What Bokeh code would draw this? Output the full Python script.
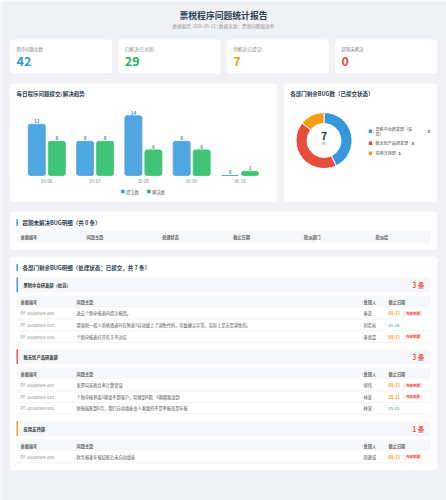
from bokeh.plotting import figure
from bokeh.models import Range1d, ColumnDataSource
from bokeh.transform import dodge
from bokeh.core.properties import value
from bokeh.embed import file_html
from bokeh.resources import INLINE
import math

# ---------------- data ----------------
report_title = "票税程序问题统计报告"
report_subtitle = "数据截至 2026-05-11 | 数据来源：票税问题跟进单"

kpi_labels = ["程序问题总数", "已解决(已关闭)", "待解决(已提交)", "超期未解决"]
kpi_values = [42, 29, 7, 0]

trend_title = "每日程序问题提交/解决趋势"
dates = ["05-06", "05-07", "05-08", "05-09", "05-10"]
submitted = [12, 8, 14, 8, 0]
resolved = [8, 8, 6, 6, 1]
series_names = ["提交数", "解决数"]

donut_title = "各部门剩余BUG数（已提交状态）"
dept_names = ["票税中台研发部（驻高）", "账无忧产品研发部", "应用支持部"]
dept_counts = [3, 3, 1]
donut_unit = "条"

overdue_title = "超期未解决BUG明细（共 0 条）"
overdue_columns = ["单据编号", "问题主题", "处理状态", "截止日期", "指派部门", "指派给"]

detail_title = "各部门剩余BUG明细（处理状态：已提交，共 7 条）"
detail_columns = ["单据编号", "问题主题", "处理人", "截止日期"]
bug_ids = ["PF-20260509-004", "PF-20260508-017", "PF-20260508-016",
           "PF-20260509-007", "PF-20260508-010", "PF-20260508-003",
           "PF-20260509-006"]
bug_topics = ["进去个税申报表内提示报错。",
              "增值税一般人系统填表时在附表5自动填上了减免代码，导致确认异常，实际上是无需减免的。",
              "个税申报表打开名字不对应",
              "发票勾选税负率计算错误",
              "个税申报界面5期查不到客户，切换到4期、6期都能查到",
              "财报端账到6月，我们自动填表由人家填的不是单报而是年报",
              "财务报表年报结账后未自动填表"]
bug_handlers = ["秦凯", "刘若权", "黄德嘉", "郭伟", "林波", "林波", "周建成"]
bug_due = ["05-11", "05-26", "05-11", "05-11", "05-11", "05-25", "05-11"]
bug_dept = [0, 0, 0, 1, 1, 1, 2]
today = "05-11"
due_badge = "今日到期"
count_suffix = " 条"

# ---------------- styles ----------------
W, H = 446, 500
FONT = "Noto Sans CJK SC"
PAGE = "#f0f2f5"
BLUE, GREEN, ORANGE, RED = "#3498db", "#27ae60", "#f39c12", "#e74c3c"
kpi_colors = [BLUE, GREEN, ORANGE, RED]
dept_colors = [BLUE, RED, ORANGE]
DARK = "#2c3e50"


def Y(py):
    return H - py


p = figure(width=W, height=H, x_range=Range1d(0, W), y_range=Range1d(0, H),
           output_backend="svg", toolbar_location=None, min_border=0,
           x_axis_location=None, y_axis_location=None,
           background_fill_color=PAGE, border_fill_color=PAGE,
           outline_line_color=None)
p.xgrid.visible = False
p.ygrid.visible = False


def txt(x, y, s, size, color="#333", bold=False, align="left", baseline="middle"):
    p.text(x=[x], y=[Y(y)], text=[s], text_font=value(FONT),
           text_font_size=f"{size}px", text_color=color,
           text_font_style="bold" if bold else "normal",
           text_align=align, text_baseline=baseline)


def box(l, t, r, b, color, radius=0):
    p.quad(left=[l], right=[r], top=[Y(t)], bottom=[Y(b)], fill_color=color,
           line_color=None, border_radius=int(radius))


# ---------------- header ----------------
txt(W / 2, 15, report_title, 8.8, DARK, bold=True, align="center")
txt(W / 2, 25, report_subtitle, 4.6, "#999999", align="center")

# KPI cards
m, gap = 9.3, 6
cw = (W - 2 * m - 3 * gap) / 4
for i, (lab, val) in enumerate(zip(kpi_labels, kpi_values)):
    l = m + i * (cw + gap)
    box(l, 39, l + cw, 72.7, "white", 4)
    txt(l + 6.7, 48.7, lab, 4.4, "#888888")
    txt(l + 6.7, 60.5, str(val), 12.5, kpi_colors[i], bold=True)

# ---------------- trend card ----------------
box(9.3, 83, 276.7, 201.7, "white", 4)
txt(16, 93.5, trend_title, 5.5, DARK, bold=True)

BX0, BDX, BASE, K = 46.3, 48.3, 175.0, 4.27
p.extra_x_ranges = {"bx": Range1d(-BX0 / BDX, (W - BX0) / BDX)}
p.extra_y_ranges = {"by": Range1d(-(H - BASE) / K, BASE / K)}

src = ColumnDataSource(dict(
    x=list(range(len(dates))), date=dates, sub=submitted, res=resolved,
    sub_t=[str(v) for v in submitted], res_t=[str(v) for v in resolved]))
off, bw = 0.207, 0.352
bar_cols = ["#4fa6e0", "#3fc476"]
p.vbar(x=dodge("x", -off), top="sub", bottom=0, width=bw, source=src,
       x_range_name="bx", y_range_name="by", fill_color=bar_cols[0],
       line_color=bar_cols[0], line_width=0.8, border_radius=2)
p.vbar(x=dodge("x", off), top="res", bottom=0, width=bw, source=src,
       x_range_name="bx", y_range_name="by", fill_color=bar_cols[1],
       line_color=bar_cols[1], line_width=0.8, border_radius=2)
p.text(x=dodge("x", -off), y="sub", text="sub_t", source=src,
       x_range_name="bx", y_range_name="by", text_align="center",
       text_baseline="bottom", y_offset=-1.2, text_font=value(FONT),
       text_font_size="4.6px", text_font_style="bold", text_color=BLUE)
p.text(x=dodge("x", off), y="res", text="res_t", source=src,
       x_range_name="bx", y_range_name="by", text_align="center",
       text_baseline="bottom", y_offset=-1.2, text_font=value(FONT),
       text_font_size="4.6px", text_font_style="bold", text_color=GREEN)
p.text(x="x", y=0, text="date", source=src, x_range_name="bx",
       y_range_name="by", text_align="center", text_baseline="middle",
       y_offset=5.8, text_font=value(FONT), text_font_size="4.3px",
       text_color="#888888")

# trend legend
for i, (nm, c) in enumerate(zip(series_names, [BLUE, GREEN])):
    lx = 120.7 + i * 26
    box(lx, 189.3, lx + 3.4, 192.7, c)
    txt(lx + 5, 191, nm, 4.3, "#666666")

# ---------------- donut card ----------------
box(283.3, 83, 436.7, 201.7, "white", 4)
txt(289.7, 93.5, donut_title, 5.5, DARK, bold=True)

total = sum(dept_counts)
starts, ends = [], []
acc = 0
for v in dept_counts:
    starts.append(math.pi / 2 - 2 * math.pi * acc / total)
    acc += v
    ends.append(math.pi / 2 - 2 * math.pi * acc / total)
CX, CY = 323.5, 140
p.annular_wedge(x=CX, y=Y(CY), inner_radius=17, outer_radius=28,
                start_angle=starts, end_angle=ends, direction="clock",
                fill_color=dept_colors, line_color="white", line_width=1)
txt(CX, 135.5, str(total), 10.5, DARK, bold=True, align="center")
txt(CX, 143.3, donut_unit, 3.8, "#999999", align="center")

leg_y = [130.7, 142.7, 152.7]
val_x = [427, 411, 398]
for i, (nm, v) in enumerate(zip(dept_names, dept_counts)):
    box(368.3, leg_y[i] - 1.7, 371.7, leg_y[i] + 1.7, dept_colors[i])
    if len(nm) > 9:
        txt(375, leg_y[i] - 2.7, nm[:9], 4.1, "#444444")
        txt(375, leg_y[i] + 2.9, nm[9:], 4.1, "#444444")
    else:
        txt(375, leg_y[i], nm, 4.1, "#444444")
    txt(val_x[i], leg_y[i], str(v), 4.1, DARK, bold=True)

# ---------------- overdue card ----------------
box(9.3, 211, 436.7, 249.5, "white", 4)
box(16, 218.5, 17.4, 225.5, BLUE)
txt(22, 222, overdue_title, 5.5, DARK, bold=True)
box(16, 230, 430, 242.7, "#f5f7fa")
ov_x = [20, 86, 161.7, 232.7, 303.3, 375]
for cx, col in zip(ov_x, overdue_columns):
    txt(cx, 236.3, col, 4.2, "#666666", bold=True)

# ---------------- detail card ----------------
box(9.3, 256, 436.7, 470, "white", 4)
box(16, 263.5, 17.4, 270.5, BLUE)
txt(22, 267, detail_title, 5.5, DARK, bold=True)

det_x = [20, 76, 363, 388]
y0 = 277
ROW = 11.6
for d, (dn, dc) in enumerate(zip(dept_names, dept_counts)):
    # group header
    box(16, y0, 430, y0 + 14.8, "#f5f7fa", 2)
    box(16, y0, 17.4, y0 + 14.8, dept_colors[d])
    txt(23, y0 + 7.6, dn, 4.3, "#333333", bold=True)
    txt(424, y0 + 7.8, str(dc) + count_suffix, 6.8, RED, bold=True, align="right")
    # table header
    th = y0 + 18.5
    box(16, th, 430, th + 11.5, "#f5f7fa")
    for cx, col in zip(det_x, detail_columns):
        txt(cx, th + 5.9, col, 4.2, "#666666", bold=True)
    ry = th + 11.5
    rows = [k for k in range(len(bug_ids)) if bug_dept[k] == d]
    for k in rows:
        cy = ry + ROW / 2
        txt(det_x[0], cy, bug_ids[k], 4.2, "#888888")
        txt(det_x[1], cy, bug_topics[k], 4.2, "#555555")
        txt(det_x[2], cy, bug_handlers[k], 4.2, "#555555")
        is_today = bug_due[k] == today
        txt(det_x[3], cy, bug_due[k], 4.2, ORANGE if is_today else GREEN, bold=is_today)
        if is_today:
            box(403.3, cy - 2.4, 421.7, cy + 2.4, "#fde6e6", 1)
            txt(412.5, cy, due_badge, 3.4, RED, bold=True, align="center")
        p.segment(x0=[16], x1=[430], y0=[Y(ry + ROW)], y1=[Y(ry + ROW)],
                  line_color="#eef0f3", line_width=0.7)
        ry += ROW
    y0 = ry + 7

open("out.html", "w").write(file_html(p, INLINE))
